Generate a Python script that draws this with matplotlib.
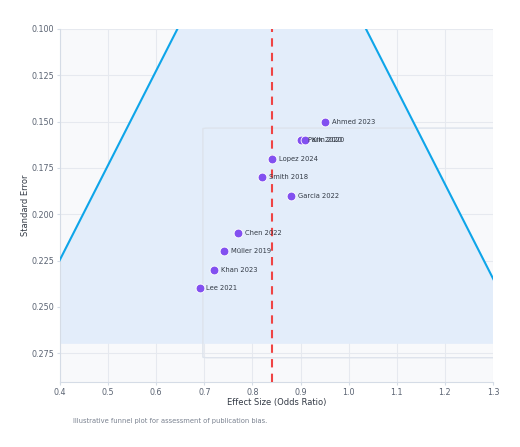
import matplotlib
matplotlib.use("Agg")
import matplotlib.pyplot as plt
from matplotlib.patches import FancyBboxPatch
import numpy as np

studies = ["Ahmed 2023", "Park 2020", "Kim 2020", "Lopez 2024", "Smith 2018",
           "Garcia 2022", "Chen 2022", "Müller 2019", "Khan 2023", "Lee 2021"]
effect = [0.95, 0.90, 0.91, 0.84, 0.82, 0.88, 0.77, 0.74, 0.72, 0.69]
se = [0.15, 0.16, 0.16, 0.17, 0.18, 0.19, 0.21, 0.22, 0.23, 0.24]
pooled = 0.84
se_range = [0.0, 0.27]
x_ticks = [0.4, 0.5, 0.6, 0.7, 0.8, 0.9, 1.0, 1.1, 1.2, 1.3]
y_ticks = [0.100, 0.125, 0.150, 0.175, 0.200, 0.225, 0.250, 0.275]

plt.rcParams['font.family'] = ['DejaVu Sans']
fig = plt.figure(figsize=(5.2, 4.47), dpi=100)
ax = fig.add_axes([60/520, 1-382/447, 433/520, 353/447])
ax.set_facecolor("#f8f9fb")

se_grid = np.linspace(se_range[0], se_range[1], 100)
lo = pooled - 1.96*se_grid
hi = pooled + 1.96*se_grid
ax.fill_betweenx(se_grid, lo, hi, color="#e3edfa", zorder=1, lw=0)
ax.plot(lo, se_grid, color="#0ea5e9", lw=1.5, zorder=3)
ax.plot(hi, se_grid, color="#0ea5e9", lw=1.5, zorder=3)
ax.axvline(pooled, color="#ef4444", lw=1.5, ls=(0, (4, 3)), zorder=3)

box = FancyBboxPatch((0.697, 0.1535), 0.8, 0.124, boxstyle="round,pad=0,rounding_size=0.012",
                     transform=ax.transData, fc="none", ec="#dde3ec", lw=1.0, zorder=2,
                     mutation_aspect=0.03)
ax.add_patch(box)

ax.scatter(effect, se, s=40, color="#8250f0", edgecolor="white", linewidth=0.6, zorder=5)
for n, x, y in zip(studies, effect, se):
    ax.annotate(n, (x, y), xytext=(5, 0), textcoords="offset points", va="center",
                fontsize=4.9, color="#333a45", zorder=6)

ax.set_xlim(0.4, 1.3)
ax.set_ylim(0.2906, 0.1)
ax.set_xticks(x_ticks)
ax.set_xticklabels([f"{v:.1f}" for v in x_ticks])
ax.set_yticks(y_ticks)
ax.set_yticklabels([f"{v:.3f}" for v in y_ticks])
ax.grid(True, color="#e6e9ef", lw=0.8, zorder=0)
ax.set_axisbelow(True)
for s in ["top", "right"]:
    ax.spines[s].set_visible(False)
for s in ["left", "bottom"]:
    ax.spines[s].set_color("#d5dce6")
ax.tick_params(colors="#d5dce6", labelcolor="#5a6372", labelsize=5.8, length=2.5, pad=1.5)
ax.set_xlabel("Effect Size (Odds Ratio)", fontsize=6.0, color="#333a45", labelpad=1)
ax.set_ylabel("Standard Error", fontsize=6.0, color="#333a45", labelpad=1)

fig.text(73/520, 1-421/447, "Illustrative funnel plot for assessment of publication bias.",
         fontsize=4.9, color="#7a8290", va="center")

fig.savefig("out.png", dpi=100, facecolor="white")
